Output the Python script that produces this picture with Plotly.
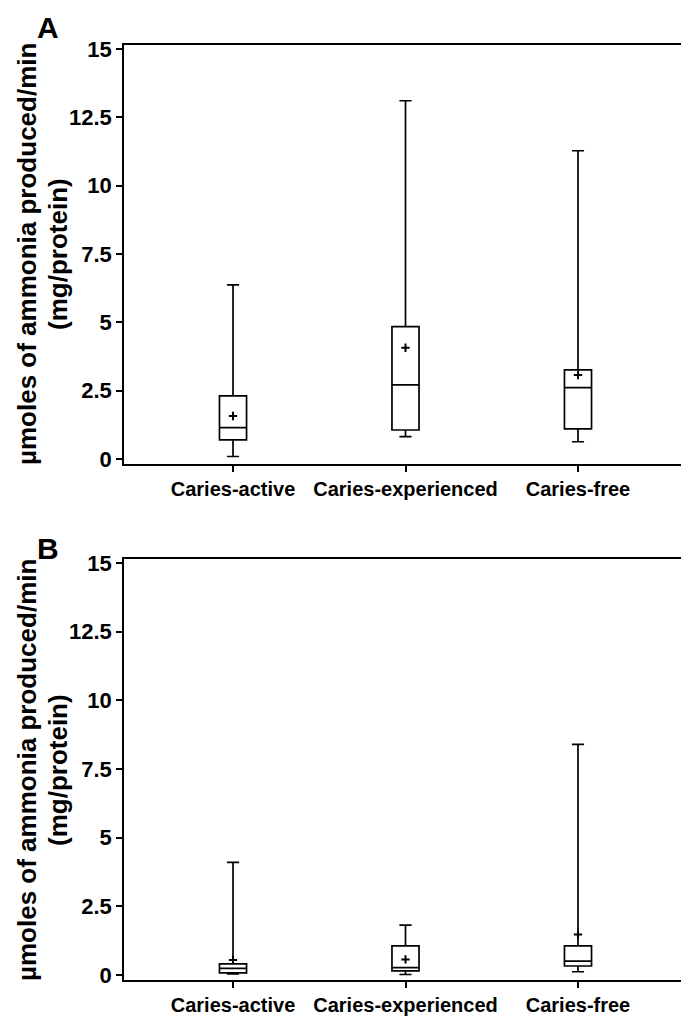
import plotly.graph_objects as go

groups = ["Caries-active", "Caries-experienced", "Caries-free"]

# Panel A
a_low = [0.09, 0.82, 0.63]
a_q1 = [0.70, 1.06, 1.10]
a_med = [1.15, 2.71, 2.61]
a_q3 = [2.31, 4.84, 3.26]
a_high = [6.37, 13.11, 11.28]
a_mean = [1.57, 4.07, 3.07]

# Panel B
b_low = [0.04, 0.02, 0.12]
b_q1 = [0.08, 0.15, 0.33]
b_med = [0.24, 0.27, 0.51]
b_q3 = [0.41, 1.06, 1.06]
b_high = [4.10, 1.82, 8.40]
b_mean = [0.55, 0.57, 1.48]

y_ticks = [0, 2.5, 5, 7.5, 10, 12.5, 15]
y_ticktext = ["0", "2.5", "5", "7.5", "10", "12.5", "15"]

FONT = "Liberation Sans, Arial, Helvetica"

fig = go.Figure()

for xa, ya, low, q1, med, q3, high, mean in [
    ("x", "y", a_low, a_q1, a_med, a_q3, a_high, a_mean),
    ("x2", "y2", b_low, b_q1, b_med, b_q3, b_high, b_mean),
]:
    fig.add_trace(go.Box(
        x=groups, q1=q1, median=med, q3=q3, lowerfence=low, upperfence=high,
        xaxis=xa, yaxis=ya,
        width=0.157, whiskerwidth=0.45,
        line=dict(color="black", width=1.7),
        fillcolor="white", showlegend=False, hoverinfo="skip",
    ))
    fig.add_trace(go.Scatter(
        x=groups, y=mean, xaxis=xa, yaxis=ya, mode="markers",
        marker=dict(symbol="cross-thin", size=6, line=dict(color="black", width=2)),
        showlegend=False, hoverinfo="skip",
    ))

axis_common = dict(
    showline=True, linecolor="black", linewidth=1.6, mirror=True,
    ticks="outside", ticklen=6, tickwidth=1.6, tickcolor="black",
    showgrid=False, zeroline=False, automargin=False,
)
xcommon = dict(axis_common, type="category", range=[-0.632, 2.603],
               tickfont=dict(family=FONT, size=20, color="black", weight="bold"))
ycommon = dict(axis_common, range=[-0.18, 15.15], tickvals=y_ticks, ticktext=y_ticktext,
               tickfont=dict(family=FONT, size=22, color="black", weight="bold"))

# the page body adds an 8px offset, so margins are pulled in to compensate
fig.update_layout(
    width=689, height=1028,
    margin=dict(l=116, r=15, t=37, b=56),
    plot_bgcolor="white", paper_bgcolor="white",
    font=dict(family=FONT, color="black"),
    xaxis=dict(xcommon, domain=[0, 1], anchor="y"),
    yaxis=dict(ycommon, domain=[0.552, 1.0], anchor="x"),
    xaxis2=dict(xcommon, domain=[0, 1], anchor="y2"),
    yaxis2=dict(ycommon, domain=[0.0, 0.4503], anchor="x2"),
)

title_lines = ["µmoles of ammonia produced/min", "(mg/protein)"]
for label, ymid, yletter in [("A", 0.7765, 1.019), ("B", 0.2246, 0.462)]:
    for line, xpos in zip(title_lines, [-0.1738, -0.1183]):
        fig.add_annotation(
            text="<b>" + line + "</b>", xref="paper", yref="paper", x=xpos, y=ymid,
            textangle=-90, showarrow=False, xanchor="center", yanchor="middle",
            font=dict(family=FONT, size=26, color="black"),
        )
    fig.add_annotation(
        text="<b>" + label + "</b>", xref="paper", yref="paper", x=-0.136, y=yletter,
        showarrow=False, xanchor="center", yanchor="middle",
        font=dict(family=FONT, size=30, color="black"),
    )

fig.write_html("out.html")
